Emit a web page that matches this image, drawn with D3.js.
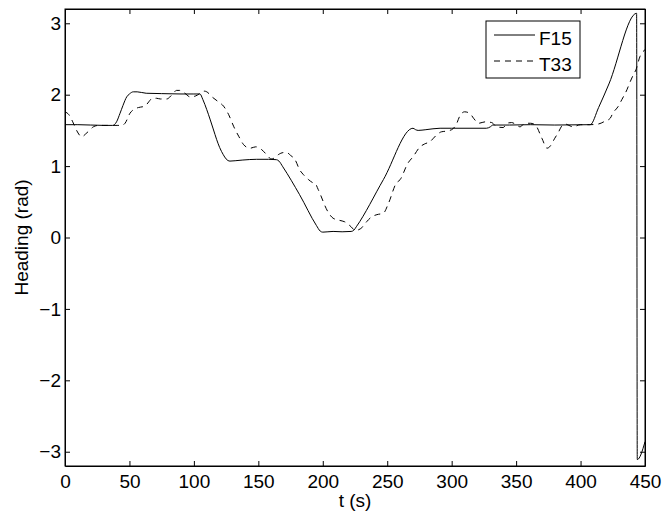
<!DOCTYPE html>
<html>
<head>
<meta charset="utf-8">
<script src="https://cdn.jsdelivr.net/npm/d3@7"></script>
<style>
  body { margin: 0; background: #fff; }
</style>
</head>
<body>
<div id="chart"></div>
<script>
// Heading traces (t in s, heading in rad)
const f15T = [0, 10, 20, 30, 37, 40, 42.7, 45, 47.9, 50, 53, 56, 63, 75, 90, 100, 104.7, 107, 110, 115, 117.7,
  120, 122.8, 125, 128, 132, 138, 148.7, 158, 164, 166, 169, 182, 195, 198, 200, 208, 215, 222, 224, 226, 247,
  270, 272, 274, 280, 291, 300, 327, 330, 332, 345, 361, 380, 407.5, 414, 422, 443.5, 444, 450];
const f15H = [1.58, 1.58, 1.575, 1.57, 1.57, 1.62, 1.74, 1.85, 1.97, 2.01, 2.04, 2.04, 2.02, 2.015, 2.01, 2.01, 2.01,
  1.93, 1.79, 1.52, 1.37, 1.26, 1.16, 1.10, 1.07, 1.075, 1.085, 1.095, 1.095, 1.09, 1.07, 0.99, 0.60, 0.17, 0.09,
  0.075, 0.085, 0.08, 0.085, 0.10, 0.15, 0.81, 1.53, 1.51, 1.50, 1.51, 1.53, 1.53, 1.53, 1.55, 1.575, 1.575, 1.58,
  1.575, 1.58, 1.82, 2.15, 3.14, -3.11, -2.86];

const t33T = [0, 3, 6, 9, 13, 16, 19, 22, 26, 33, 41, 44, 46.6, 50.4, 54, 57, 62, 65, 67, 71, 74, 79, 82, 84, 86.5,
  89, 93, 97, 101, 105, 108, 110, 114, 119, 123, 127, 131, 135, 138.6, 143.5, 148, 152.6, 156.5, 160, 163, 165.5,
  170, 172, 175, 178.5, 182, 185, 189, 192, 194, 196.5, 204, 208, 213, 217, 222, 225, 228, 231, 234, 238, 242, 247,
  251, 257, 260, 266, 270, 275.5, 279, 283, 288, 292, 296, 300, 304, 306, 310, 314, 317, 321, 326, 331, 335, 340,
  343, 346.5, 350, 353, 357, 361, 364.7, 370, 374, 376, 380, 383, 385, 388, 391, 394, 400, 407, 414, 418, 423, 425,
  429, 432, 436, 438, 441, 443, 446, 450];
const t33H = [1.76, 1.72, 1.62, 1.50, 1.41, 1.45, 1.50, 1.55, 1.57, 1.57, 1.57, 1.57, 1.60, 1.74, 1.80, 1.82, 1.84,
  1.90, 1.94, 1.95, 1.94, 1.94, 1.98, 2.02, 2.06, 2.06, 2.02, 1.97, 1.98, 2.02, 2.05, 2.04, 1.97, 1.90, 1.84, 1.72,
  1.55, 1.41, 1.30, 1.25, 1.27, 1.23, 1.16, 1.10, 1.12, 1.16, 1.19, 1.19, 1.15, 1.09, 0.95, 0.88, 0.81, 0.77, 0.76,
  0.67, 0.36, 0.27, 0.24, 0.22, 0.15, 0.10, 0.11, 0.15, 0.22, 0.29, 0.32, 0.34, 0.48, 0.76, 0.81, 1.04, 1.13, 1.27,
  1.31, 1.34, 1.43, 1.48, 1.49, 1.51, 1.60, 1.69, 1.76, 1.74, 1.67, 1.60, 1.62, 1.61, 1.55, 1.54, 1.60, 1.61, 1.58,
  1.55, 1.60, 1.60, 1.58, 1.39, 1.25, 1.27, 1.39, 1.48, 1.55, 1.59, 1.57, 1.55, 1.58, 1.58, 1.59, 1.62, 1.67, 1.74,
  1.83, 1.93, 2.07, 2.16, 2.28, 2.35, 2.53, 2.63];

const xTicks = [0, 50, 100, 150, 200, 250, 300, 350, 400, 450];
const yTicks = [-3, -2, -1, 0, 1, 2, 3];
const seriesNames = ["F15", "T33"];

const width = 662;
const height = 515;
const margin = { top: 9, right: 17, bottom: 49, left: 65 };
const font = "'Liberation Sans', Arial, Helvetica, sans-serif";

const svg = d3.select("#chart").append("svg")
  .attr("width", width)
  .attr("height", height)
  .style("font-family", font);

const x = d3.scaleLinear().domain([0, 450]).range([margin.left, width - margin.right]);
const y = d3.scaleLinear().domain([-3.2, 3.2]).range([height - margin.bottom, margin.top]);

svg.append("clipPath").attr("id", "plot-clip")
  .append("rect")
  .attr("x", margin.left).attr("y", margin.top)
  .attr("width", x(450) - x(0)).attr("height", y(-3.2) - y(3.2));

// lines
const line = d3.line()
  .x(d => x(d[0]))
  .y(d => y(d[1]))
  .curve(d3.curveMonotoneX);

const plot = svg.append("g").attr("clip-path", "url(#plot-clip)");

plot.append("path")
  .datum(f15T.map((t, i) => [t, f15H[i]]))
  .attr("fill", "none")
  .attr("stroke", "#000")
  .attr("stroke-width", 1)
  .attr("d", line);

plot.append("path")
  .datum(t33T.map((t, i) => [t, t33H[i]]))
  .attr("fill", "none")
  .attr("stroke", "#000")
  .attr("stroke-width", 1)
  .attr("stroke-dasharray", "6,5")
  .attr("d", line);

// axes, MATLAB style: ticks inside on all four sides
const fmt = d3.format("d");

svg.append("g")
  .attr("transform", `translate(0,${y(-3.2)})`)
  .call(d3.axisBottom(x).tickValues(xTicks).tickFormat(fmt).tickSize(-5).tickSizeOuter(0).tickPadding(9));

svg.append("g")
  .attr("transform", `translate(${x(0)},0)`)
  .call(d3.axisLeft(y).tickValues(yTicks).tickFormat(fmt).tickSize(-5).tickSizeOuter(0).tickPadding(4));

svg.append("g")
  .attr("transform", `translate(0,${y(3.2)})`)
  .call(d3.axisTop(x).tickValues(xTicks).tickSize(-5).tickSizeOuter(0).tickFormat(""));

svg.append("g")
  .attr("transform", `translate(${x(450)},0)`)
  .call(d3.axisRight(y).tickValues(yTicks).tickSize(-5).tickSizeOuter(0).tickFormat(""));

svg.selectAll(".tick text")
  .style("font-size", "19px")
  .style("font-family", font)
  .attr("fill", "#000");

svg.selectAll(".domain, .tick line").attr("stroke", "#000");

svg.append("rect")
  .attr("x", x(0)).attr("y", y(3.2))
  .attr("width", x(450) - x(0)).attr("height", y(-3.2) - y(3.2))
  .attr("fill", "none")
  .attr("stroke", "#000");

// axis labels
svg.append("text")
  .attr("x", (x(0) + x(450)) / 2)
  .attr("y", 507)
  .attr("text-anchor", "middle")
  .style("font-size", "19px")
  .text("t (s)");

svg.append("text")
  .attr("transform", `translate(28,${(y(3.2) + y(-3.2)) / 2}) rotate(-90)`)
  .attr("text-anchor", "middle")
  .style("font-size", "19px")
  .text("Heading (rad)");

// legend
const legend = svg.append("g");
legend.append("rect")
  .attr("x", 486).attr("y", 21)
  .attr("width", 94).attr("height", 57)
  .attr("fill", "#fff")
  .attr("stroke", "#000");

seriesNames.forEach((name, i) => {
  const ly = 35 + i * 26;
  legend.append("line")
    .attr("x1", 494).attr("x2", 535)
    .attr("y1", ly).attr("y2", ly)
    .attr("stroke", "#000")
    .attr("stroke-dasharray", i === 1 ? "6,5" : null);
  legend.append("text")
    .attr("x", 539)
    .attr("y", ly + 9.5)
    .style("font-size", "19px")
    .text(name);
});
</script>
</body>
</html>
